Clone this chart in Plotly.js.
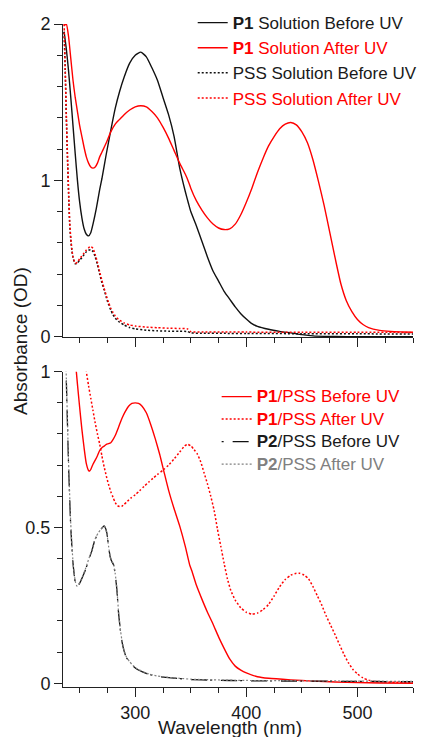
<!DOCTYPE html>
<html><head><meta charset="utf-8">
<script src="https://cdn.plot.ly/plotly-3.0.1.min.js"></script>
<style>html,body{margin:0;padding:0;background:#fff;} #chart{width:421px;height:737px;}</style>
</head><body><div id="chart"></div>
<script>
// ---------- Top panel: solutions ----------
const wlP1SolBefore = [236,238,240,242,244,246,248,250,252,254,256,258,260,262,265,268,270,274,278,282,286,290,295,300,305,310,315,320,325,330,335,340,345,348,350,355,360,365,370,375,380,385,390,395,400,405,410,420,430,440,450,460,470,480,500,520,550];
const absP1SolBefore = [1.95,1.84,1.70,1.53,1.35,1.17,1.00,0.86,0.76,0.69,0.655,0.645,0.665,0.72,0.82,0.94,1.01,1.17,1.32,1.46,1.57,1.66,1.75,1.80,1.82,1.79,1.72,1.64,1.53,1.42,1.28,1.08,0.93,0.85,0.80,0.71,0.61,0.51,0.42,0.355,0.29,0.24,0.19,0.147,0.113,0.083,0.066,0.047,0.034,0.024,0.013,0.005,0.002,0.001,0,0,0];

const wlP1SolAfter = [236,238,240,242,244,246,248,250,252,254,256,258,260,262,264,266,268,270,274,278,282,286,290,295,300,305,310,315,320,325,330,335,340,345,348,350,355,360,365,370,375,380,385,390,395,400,405,410,415,420,425,430,435,440,445,450,455,460,465,470,475,480,485,490,495,500,505,510,520,530,540,550];
const absP1SolAfter = [1.99,2.0,1.92,1.78,1.64,1.53,1.44,1.35,1.28,1.21,1.15,1.11,1.085,1.078,1.085,1.11,1.15,1.18,1.24,1.31,1.36,1.39,1.42,1.45,1.47,1.477,1.47,1.44,1.40,1.34,1.27,1.19,1.11,1.04,0.99,0.95,0.87,0.81,0.76,0.72,0.695,0.685,0.69,0.72,0.78,0.86,0.95,1.05,1.14,1.22,1.28,1.33,1.36,1.37,1.355,1.31,1.24,1.13,0.99,0.84,0.67,0.50,0.34,0.23,0.16,0.11,0.078,0.058,0.04,0.033,0.03,0.028];

const wlPSSSol = [236,237,238,239,240,241,242,243,244,246,248,250,252,254,256,258,260,262,264,266,268,270,272,274,276,278,280,282,285,290,295,300,310,320,330,340,347,350,360,380,400,450,500,550];
const absPSSSolBefore = [1.95,1.70,1.40,1.15,0.92,0.72,0.62,0.55,0.505,0.466,0.47,0.49,0.505,0.525,0.543,0.553,0.556,0.545,0.51,0.46,0.40,0.345,0.30,0.25,0.205,0.17,0.14,0.118,0.097,0.075,0.058,0.05,0.041,0.037,0.035,0.034,0.033,0.024,0.022,0.021,0.02,0.019,0.018,0.017];
const absPSSSolAfter = [2.0,1.72,1.42,1.17,0.94,0.74,0.63,0.56,0.51,0.47,0.475,0.50,0.515,0.535,0.555,0.568,0.577,0.565,0.525,0.475,0.415,0.36,0.31,0.262,0.218,0.182,0.155,0.133,0.11,0.088,0.075,0.068,0.061,0.057,0.054,0.052,0.05,0.032,0.03,0.029,0.029,0.028,0.028,0.027];

// ---------- Bottom panel: films on PSS ----------
const wlP1PSSBefore = [244,246,248,250,252,254,256,258,259,260,262,264,266,268,270,272,274,276,278,280,282,285,288,291,294,297,300,303,306,310,314,318,322,326,330,335,340,345,349,351,355,360,365,370,375,380,385,390,395,400,410,420,440,460,480,500,520,550];
const absP1PSSBefore = [1.12,1.04,0.96,0.885,0.815,0.755,0.705,0.683,0.681,0.686,0.703,0.716,0.73,0.747,0.756,0.761,0.767,0.769,0.772,0.782,0.795,0.822,0.85,0.872,0.889,0.898,0.90,0.898,0.89,0.868,0.83,0.785,0.735,0.677,0.62,0.56,0.505,0.44,0.38,0.36,0.315,0.27,0.228,0.19,0.149,0.112,0.078,0.055,0.042,0.033,0.021,0.016,0.011,0.007,0.004,0.002,0.001,0];

const wlP1PSSAfter = [252,254,256,258,260,262,264,266,268,270,272,274,276,278,280,282,284,286,288,290,293,296,300,304,308,312,316,320,325,330,335,340,344,347,350,353,356,359,362,365,368,371,374,377,380,383,386,390,395,400,405,410,415,420,425,430,435,440,445,448,452,456,460,464,468,472,476,480,484,488,492,496,500,505,510,515,520,535,550];
const absP1PSSAfter = [1.12,1.06,1.0,0.955,0.915,0.875,0.835,0.80,0.768,0.73,0.695,0.665,0.638,0.615,0.597,0.58,0.57,0.567,0.568,0.574,0.584,0.594,0.605,0.618,0.632,0.645,0.658,0.67,0.684,0.70,0.72,0.742,0.76,0.767,0.762,0.75,0.735,0.71,0.675,0.64,0.60,0.555,0.495,0.44,0.385,0.335,0.298,0.267,0.242,0.228,0.222,0.225,0.236,0.253,0.28,0.31,0.333,0.347,0.353,0.353,0.347,0.335,0.31,0.28,0.25,0.215,0.185,0.155,0.123,0.092,0.065,0.044,0.03,0.017,0.01,0.006,0.005,0.003,0.003];

const wlP2PSS = [236,238,240,242,244,246,247.5,249,251,253,255,257,259,261,263,265,267,269,271,272,273,274.5,276,277.5,279,280.5,282,283.5,285,286.5,288,290,292,295,298,302,307,313,320,330,340,350,370,400,450,500,550];
const absP2PSSBefore = [1.2,0.97,0.70,0.50,0.385,0.325,0.31,0.315,0.328,0.345,0.362,0.383,0.405,0.425,0.452,0.47,0.482,0.493,0.502,0.505,0.50,0.482,0.44,0.405,0.39,0.38,0.35,0.30,0.225,0.175,0.135,0.103,0.083,0.067,0.055,0.044,0.036,0.028,0.022,0.018,0.015,0.012,0.01,0.008,0.007,0.006,0.005];
const absP2PSSAfter = [1.2,0.98,0.71,0.51,0.39,0.328,0.312,0.317,0.33,0.347,0.365,0.386,0.408,0.428,0.454,0.472,0.484,0.494,0.502,0.504,0.499,0.48,0.44,0.407,0.392,0.382,0.352,0.303,0.228,0.178,0.138,0.105,0.085,0.069,0.057,0.046,0.037,0.029,0.023,0.019,0.016,0.013,0.011,0.009,0.008,0.007,0.006];

// ---------- Labels ----------
const RED = '#ff0000', BLK = '#111111', GRY = '#808080';
const namesTop = [
  '<b>P1</b> Solution Before UV',
  '<span style="color:#ff0000"><b>P1</b> Solution After UV</span>',
  'PSS Solution Before UV',
  '<span style="color:#ff0000">PSS Solution After UV</span>'
];
const namesBottom = [
  '<span style="font-size:17px;color:#ff0000"><b>P1</b>/PSS Before UV</span>',
  '<span style="font-size:17px;color:#ff0000"><b>P1</b>/PSS After UV</span>',
  '<span style="font-size:17px"><b>P2</b>/PSS Before UV</span>',
  '<span style="font-size:17px;color:#808080"><b>P2</b>/PSS After UV</span>'
];
const xTitle = 'Wavelength (nm)';
const yTitle = 'Absorbance (OD)';

const sm = 0.5;
function tr(x, y, name, color, dash, width, axTop, leg) {
  return {
    type: 'scatter', mode: 'lines', x: x, y: y, name: name,
    line: {color: color, width: width, dash: dash, shape: 'spline', smoothing: sm},
    xaxis: axTop ? 'x2' : 'x', yaxis: axTop ? 'y2' : 'y',
    legend: leg, hoverinfo: 'skip'
  };
}

const data = [
  tr(wlP1SolBefore, absP1SolBefore, namesTop[0], BLK, 'solid', 1.4, true, 'legend'),
  tr(wlP1SolAfter, absP1SolAfter, namesTop[1], RED, 'solid', 1.4, true, 'legend'),
  tr(wlPSSSol, absPSSSolBefore, namesTop[2], BLK, '2px,2px', 1.5, true, 'legend'),
  tr(wlPSSSol, absPSSSolAfter, namesTop[3], RED, '2px,2px', 1.5, true, 'legend'),
  tr(wlP1PSSBefore, absP1PSSBefore, namesBottom[0], RED, 'solid', 1.4, false, 'legend2'),
  tr(wlP1PSSAfter, absP1PSSAfter, namesBottom[1], RED, '2px,2px', 1.5, false, 'legend2'),
  tr(wlP2PSS, absP2PSSBefore, namesBottom[2], BLK, '2px,9px,16px,3px', 1.3, false, 'legend2'),
  tr(wlP2PSS, absP2PSSAfter, namesBottom[3], GRY, '2px,2px', 1.2, false, 'legend2')
];

const AX = '#222222';
function xAx(extra) {
  return Object.assign({
    range: [235, 550], showline: true, linecolor: AX, linewidth: 1,
    ticks: 'outside', ticklen: 9, tickwidth: 1, tickcolor: AX,
    tick0: 0, dtick: 100, showgrid: false, zeroline: false,
    tickfont: {size: 18, color: '#1a1a1a'},
    minor: {tick0: 0, dtick: 25, ticks: 'outside', ticklen: 5, tickwidth: 1, tickcolor: AX, showgrid: false}
  }, extra);
}
function yAx(extra, minorD) {
  return Object.assign({
    showline: true, linecolor: AX, linewidth: 1,
    ticks: 'outside', ticklen: 8, tickwidth: 1, tickcolor: AX,
    showgrid: false, zeroline: false, tick0: 0,
    tickfont: {size: 18, color: '#1a1a1a'},
    minor: {tick0: 0, dtick: minorD, ticks: 'outside', ticklen: 5, tickwidth: 1, tickcolor: AX, showgrid: false}
  }, extra);
}

const layout = {
  width: 421, height: 737,
  margin: {l: 63, r: 8, t: 24, b: 50, autoexpand: false},
  paper_bgcolor: '#ffffff', plot_bgcolor: '#ffffff',
  font: {family: '"Liberation Sans", Arial, sans-serif', size: 17, color: '#1a1a1a'},
  showlegend: true,
  hovermode: false,
  xaxis: xAx({anchor: 'y', domain: [0, 1]}),
  xaxis2: xAx({anchor: 'y2', matches: 'x', showticklabels: false}),
  yaxis: yAx({domain: [0, 0.4756], range: [-0.012, 1], dtick: 0.5}, 0.1),
  yaxis2: yAx({domain: [0.5275, 1], range: [-0.004, 2], dtick: 1}, 0.2),
  legend: {x: 0.3706, xanchor: 'left', y: 1.0285, yanchor: 'top',
    bgcolor: 'rgba(0,0,0,0)', borderwidth: 0, itemwidth: 30, tracegroupgap: 0,
    font: {size: 17, color: '#1a1a1a'}, traceorder: 'normal', itemclick: false, itemdoubleclick: false},
  legend2: {x: 0.439, xanchor: 'left', y: 0.4625, yanchor: 'top',
    bgcolor: 'rgba(0,0,0,0)', borderwidth: 0, itemwidth: 30, tracegroupgap: 0,
    font: {size: 15, color: '#1a1a1a'}, traceorder: 'normal', itemclick: false, itemdoubleclick: false},
  annotations: [{
    text: yTitle, xref: 'paper', yref: 'paper', x: -0.12, y: 0.5219,
    xanchor: 'center', yanchor: 'middle', textangle: -90, showarrow: false,
    font: {size: 19, color: '#1a1a1a'}
  }, {
    text: xTitle, xref: 'paper', yref: 'paper', x: 0.477, y: -0.0612,
    xanchor: 'center', yanchor: 'middle', showarrow: false,
    font: {size: 19, color: '#1a1a1a'}
  }]
};

Plotly.newPlot('chart', data, layout, {displayModeBar: false, staticPlot: true});
</script></body></html>
